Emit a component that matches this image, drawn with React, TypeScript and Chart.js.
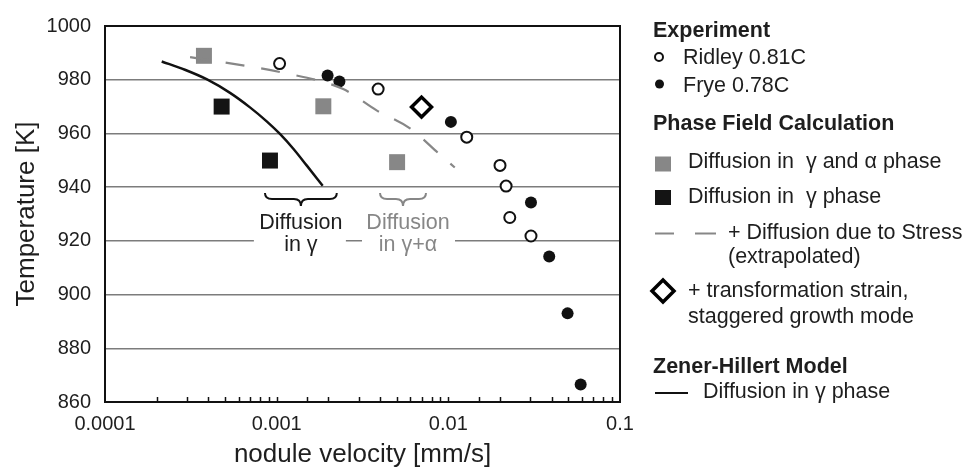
import React, { useEffect, useRef } from "react";
import { Chart, registerables } from "chart.js";
Chart.register(...registerables);

// ---- data (velocity in mm/s, temperature in K) ----
const ridleyV = [0.00104, 0.0039, 0.0128, 0.02, 0.0217, 0.0228, 0.0303];
const ridleyT = [986, 976.5, 958.6, 948.1, 940.4, 928.7, 921.8];
const fryeV = [0.00198, 0.00232, 0.01035, 0.0303, 0.0387, 0.0495, 0.059];
const fryeT = [981.6, 979.3, 964.3, 934.3, 914.2, 893, 866.5];
const pfGammaAlphaV = [0.000377, 0.00187, 0.00503];
const pfGammaAlphaT = [988.9, 970.1, 949.3];
const pfGammaV = [0.000478, 0.000914];
const pfGammaT = [970, 949.9];
const strainV = [0.00698];
const strainT = [969.8];
const zenerV = [0.000214, 0.000292, 0.000393, 0.000535, 0.000699, 0.000875, 0.001045, 0.00125, 0.001495, 0.001854];
const zenerT = [986.8, 983.7, 980.1, 975.1, 969.7, 964.5, 959.8, 954.3, 948.1, 940.5];
const stressV = [0.000313, 0.00109, 0.00244, 0.00382, 0.00598, 0.00894, 0.0109];
const stressT = [988.4, 982.6, 976.5, 968.6, 961.9, 952.1, 947.3];

const xMin = 0.0001;
const xMax = 0.1;
const yMin = 860;
const yMax = 1000;
const yStep = 20;

const xTitle = "nodule velocity [mm/s]";
const yTitle = "Temperature [K]";

// brace annotations: [x from, x to] in data units, and y in K
const braceGammaX = [0.000855, 0.00224];
const braceGammaAlphaX = [0.004, 0.00741];
const braceTopT = 937.8;
const annLine1T = 925.9;

const FONT = '"Liberation Sans", Arial, Helvetica, sans-serif';
const TXT = "#1e1e1e";
const GRAY = "#878787";
const BLACKSQ = "#141414";

const pts = (xs: number[], ys: number[]) => xs.map((x, i) => ({ x, y: ys[i] }));

export default function App() {
  const ref = useRef<HTMLCanvasElement>(null);

  useEffect(() => {
    document.body.style.margin = "0";
    const canvas = ref.current!;

    const drawBrace = (
      ctx: CanvasRenderingContext2D,
      x1: number,
      x2: number,
      y0: number,
      color: string
    ) => {
      const xm = (x1 + x2) / 2;
      const d = 6;
      ctx.save();
      ctx.strokeStyle = color;
      ctx.lineWidth = 2;
      ctx.beginPath();
      ctx.moveTo(x1, y0);
      ctx.quadraticCurveTo(x1, y0 + d, x1 + 7, y0 + d);
      ctx.lineTo(xm - 7, y0 + d);
      ctx.quadraticCurveTo(xm, y0 + d, xm, y0 + 13);
      ctx.quadraticCurveTo(xm, y0 + d, xm + 7, y0 + d);
      ctx.lineTo(x2 - 7, y0 + d);
      ctx.quadraticCurveTo(x2, y0 + d, x2, y0);
      ctx.stroke();
      ctx.restore();
    };

    const overlay = {
      id: "overlay",
      beforeDatasetsDraw(chart: any) {
        const ctx: CanvasRenderingContext2D = chart.ctx;
        const xs = chart.scales.x;
        const ys = chart.scales.y;
        const yA = ys.getPixelForValue(annLine1T);
        const c1 = (xs.getPixelForValue(braceGammaX[0]) + xs.getPixelForValue(braceGammaX[1])) / 2;
        const c2 =
          (xs.getPixelForValue(braceGammaAlphaX[0]) + xs.getPixelForValue(braceGammaAlphaX[1])) / 2;
        ctx.save();
        ctx.fillStyle = "#ffffff";
        ctx.fillRect(c1 - 47, yA - 10, 92, 42);
        ctx.fillRect(c2 - 41, yA - 10, 93, 42);
        ctx.restore();
      },
      afterDraw(chart: any) {
        const ctx: CanvasRenderingContext2D = chart.ctx;
        const a = chart.chartArea;
        const xs = chart.scales.x;
        const ys = chart.scales.y;
        ctx.save();

        // minor / major ticks on the bottom axis, pointing inwards
        ctx.strokeStyle = "#111";
        ctx.lineWidth = 1.5;
        xs.ticks.forEach((t: any) => {
          if (t.value <= xMin * 1.0001 || t.value >= xMax * 0.9999) return;
          const px = Math.round(xs.getPixelForValue(t.value)) + 0.5;
          ctx.beginPath();
          ctx.moveTo(px, a.bottom);
          ctx.lineTo(px, a.bottom - 5);
          ctx.stroke();
        });

        // frame
        ctx.strokeStyle = "#111";
        ctx.lineWidth = 2;
        ctx.strokeRect(a.left, a.top, a.right - a.left, a.bottom - a.top);

        // axis titles
        ctx.fillStyle = TXT;
        ctx.font = `26px ${FONT}`;
        ctx.textAlign = "center";
        ctx.textBaseline = "alphabetic";
        ctx.fillText(xTitle, (a.left + a.right) / 2, 462);
        ctx.save();
        ctx.translate(34, (a.top + a.bottom) / 2);
        ctx.rotate(-Math.PI / 2);
        ctx.fillText(yTitle, 0, 0);
        ctx.restore();

        // braces + annotation text
        const yb = ys.getPixelForValue(braceTopT);
        const g1 = xs.getPixelForValue(braceGammaX[0]);
        const g2 = xs.getPixelForValue(braceGammaX[1]);
        const h1 = xs.getPixelForValue(braceGammaAlphaX[0]);
        const h2 = xs.getPixelForValue(braceGammaAlphaX[1]);
        drawBrace(ctx, g1, g2, yb, "#111");
        drawBrace(ctx, h1, h2, yb, GRAY);
        const yA = ys.getPixelForValue(annLine1T);
        ctx.font = `21.5px ${FONT}`;
        ctx.textAlign = "center";
        ctx.fillStyle = TXT;
        ctx.fillText("Diffusion", (g1 + g2) / 2, yA + 3.5);
        ctx.fillText("in \u03b3", (g1 + g2) / 2, yA + 26);
        ctx.fillStyle = GRAY;
        ctx.fillText("Diffusion", (h1 + h2) / 2 + 5, yA + 3.5);
        ctx.fillText("in \u03b3+\u03b1", (h1 + h2) / 2 + 5, yA + 26);

        // legend
        ctx.textAlign = "left";
        ctx.fillStyle = TXT;
        ctx.font = `bold 21.5px ${FONT}`;
        ctx.fillText("Experiment", 653, 37);
        ctx.fillText("Phase Field Calculation", 653, 130);
        ctx.fillText("Zener-Hillert Model", 653, 373);
        ctx.font = `21.5px ${FONT}`;
        ctx.fillText("Ridley 0.81C", 683, 63.5);
        ctx.fillText("Frye 0.78C", 683, 91.5);
        ctx.fillText("Diffusion in  \u03b3 and \u03b1 phase", 688, 168);
        ctx.fillText("Diffusion in  \u03b3 phase", 688, 203);
        ctx.fillText("+ Diffusion due to Stress", 728, 238.5);
        ctx.fillText("(extrapolated)", 728, 263);
        ctx.fillText("+ transformation strain,", 688, 297);
        ctx.fillText("staggered growth mode", 688, 322.5);
        ctx.fillText("Diffusion in \u03b3 phase", 703, 398);

        // legend markers
        ctx.lineWidth = 2;
        ctx.strokeStyle = "#111";
        ctx.beginPath();
        ctx.arc(659, 57, 4, 0, Math.PI * 2);
        ctx.stroke();
        ctx.fillStyle = "#111";
        ctx.beginPath();
        ctx.arc(659.5, 84, 4.5, 0, Math.PI * 2);
        ctx.fill();
        ctx.fillStyle = GRAY;
        ctx.fillRect(655, 156.5, 16, 15);
        ctx.fillStyle = BLACKSQ;
        ctx.fillRect(655, 190, 16, 15);
        ctx.strokeStyle = GRAY;
        ctx.lineWidth = 2;
        ctx.beginPath();
        ctx.moveTo(655, 233.5);
        ctx.lineTo(674, 233.5);
        ctx.moveTo(695, 233.5);
        ctx.lineTo(716, 233.5);
        ctx.stroke();
        ctx.strokeStyle = "#000";
        ctx.lineWidth = 3.5;
        ctx.beginPath();
        ctx.moveTo(663, 280);
        ctx.lineTo(674, 291);
        ctx.lineTo(663, 302);
        ctx.lineTo(652, 291);
        ctx.closePath();
        ctx.stroke();
        ctx.strokeStyle = "#111";
        ctx.lineWidth = 2;
        ctx.beginPath();
        ctx.moveTo(655, 393);
        ctx.lineTo(688, 393);
        ctx.stroke();

        ctx.restore();
      },
    };

    const chart = new Chart(canvas, {
      type: "scatter",
      data: {
        datasets: [
          {
            label: "Zener-Hillert: Diffusion in γ phase",
            data: pts(zenerV, zenerT),
            showLine: true,
            borderColor: "#111",
            borderWidth: 2.5,
            pointRadius: 0,
            cubicInterpolationMode: "monotone",
            fill: false,
          },
          {
            label: "+ Diffusion due to Stress (extrapolated)",
            data: pts(stressV, stressT),
            showLine: true,
            borderColor: GRAY,
            borderWidth: 2.2,
            borderDash: [19, 17],
            pointRadius: 0,
            cubicInterpolationMode: "monotone",
            fill: false,
          },
          {
            label: "Diffusion in γ and α phase",
            data: pts(pfGammaAlphaV, pfGammaAlphaT),
            pointStyle: "rect",
            pointRadius: 11.3,
            backgroundColor: GRAY,
            borderColor: GRAY,
            borderWidth: 0,
          },
          {
            label: "Diffusion in γ phase",
            data: pts(pfGammaV, pfGammaT),
            pointStyle: "rect",
            pointRadius: 11.3,
            backgroundColor: BLACKSQ,
            borderColor: BLACKSQ,
            borderWidth: 0,
          },
          {
            label: "Ridley 0.81C",
            data: pts(ridleyV, ridleyT),
            pointStyle: "circle",
            pointRadius: 5.5,
            backgroundColor: "#fff",
            borderColor: "#111",
            borderWidth: 2,
          },
          {
            label: "Frye 0.78C",
            data: pts(fryeV, fryeT),
            pointStyle: "circle",
            pointRadius: 6,
            backgroundColor: "#111",
            borderColor: "#111",
            borderWidth: 0,
          },
          {
            label: "+ transformation strain, staggered growth mode",
            data: pts(strainV, strainT),
            pointStyle: "rectRot",
            pointRadius: 10,
            backgroundColor: "#fff",
            borderColor: "#000",
            borderWidth: 3.5,
          },
        ],
      },
      options: {
        animation: false,
        responsive: false,
        devicePixelRatio: 1,
        layout: { padding: { top: 19, right: 342, left: 0, bottom: 0 } },
        plugins: {
          legend: { display: false },
          tooltip: { enabled: false },
          title: { display: false },
        },
        scales: {
          x: {
            type: "logarithmic",
            min: xMin,
            max: xMax,
            grid: { display: false, drawTicks: false },
            border: { display: false },
            afterFit: (s: any) => {
              s.height = 67;
            },
            ticks: {
              autoSkip: false,
              maxRotation: 0,
              padding: 10,
              color: TXT,
              font: { family: FONT, size: 20 },
              callback: (v: any) => {
                const l = Math.log10(Number(v));
                const r = Math.round(l);
                if (Math.abs(l - r) < 1e-6) return Math.pow(10, r).toFixed(-r);
                return "";
              },
            },
          },
          y: {
            min: yMin,
            max: yMax,
            grid: {
              drawTicks: false,
              lineWidth: 1.5,
              color: (c: any) =>
                c.tick && (c.tick.value === yMin || c.tick.value === yMax)
                  ? "rgba(0,0,0,0)"
                  : "#7c7c7c",
            },
            border: { display: false },
            afterFit: (s: any) => {
              s.width = 105;
            },
            ticks: {
              stepSize: yStep,
              padding: 14,
              color: TXT,
              font: { family: FONT, size: 20 },
              callback: (v: any) => String(v),
            },
          },
        },
      },
      plugins: [overlay],
    });

    return () => chart.destroy();
  }, []);

  return (
    <div style={{ width: 962, height: 469, position: "relative", background: "#fff" }}>
      <canvas ref={ref} width={962} height={469} style={{ display: "block" }} />
    </div>
  );
}
